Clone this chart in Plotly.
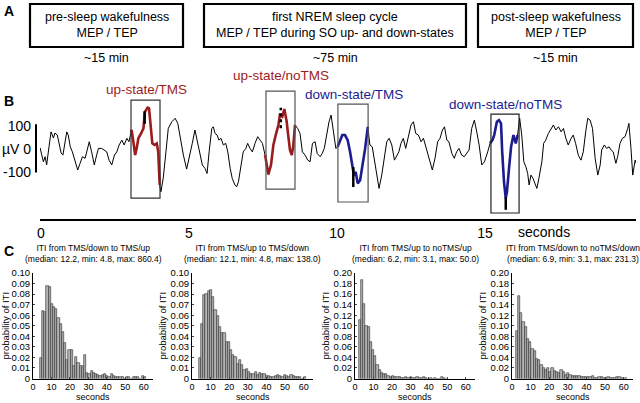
import plotly.graph_objects as go

# ---------------- Panel B: EEG trace (seconds, microvolts) ----------------
trace_t = [-0.03,0.02,0.08,0.14,0.19,0.27,0.34,0.42,0.47,0.55,0.61,0.68,0.74,0.81,0.87,0.92,0.99,1.06,1.13,1.24,
           1.32,1.40,1.49,1.58,1.63,1.71,1.80,1.88,1.94,2.05,2.14,2.22,2.30,2.39,2.48,2.56,2.64,2.73,2.81,2.90,
           2.97,3.04,3.06,3.12,3.18,3.23,3.29,3.38,3.46,3.51,3.60,3.65,3.72,3.76,3.83,3.91,3.96,4.01,4.05,4.13,
           4.22,4.30,4.42,4.53,4.62,4.70,4.81,4.92,5.03,5.11,5.20,5.29,5.37,5.45,5.54,5.61,5.68,5.77,5.82,5.88,
           5.95,6.01,6.08,6.16,6.24,6.31,6.39,6.46,6.55,6.61,6.67,6.76,6.83,6.92,6.98,7.06,7.14,7.23,7.32,7.40,
           7.48,7.57,7.63,7.68,7.77,7.85,7.93,8.02,8.07,8.15,8.22,8.30,8.35,8.41,8.47,8.52,8.58,8.67,8.75,8.83,
           8.92,9.01,9.09,9.17,9.26,9.33,9.43,9.50,9.57,9.65,9.73,9.80,9.88,9.96,10.02,10.10,10.18,10.27,10.36,10.44,
           10.52,10.57,10.63,10.70,10.78,10.85,10.95,11.04,11.11,11.19,11.28,11.38,11.42,11.51,11.60,11.68,11.76,11.85,11.94,12.02,
           12.09,12.16,12.24,12.32,12.41,12.50,12.58,12.66,12.75,12.84,12.92,13.00,13.08,13.18,13.22,13.31,13.40,13.48,13.56,13.63,
           13.71,13.78,13.88,13.96,14.04,14.12,14.21,14.30,14.38,14.46,14.55,14.64,14.72,14.80,14.89,14.98,15.09,15.17,15.25,15.31,
           15.40,15.47,15.54,15.58,15.64,15.70,15.74,15.81,15.88,15.96,16.04,16.10,16.17,16.24,16.31,16.38,16.44,16.49,16.55,16.62,
           16.69,16.75,16.82,16.92,16.98,17.05,17.14,17.23,17.31,17.39,17.48,17.57,17.65,17.73,17.81,17.91,17.98,18.06,18.15,18.24,
           18.32,18.40,18.47,18.55,18.63,18.72,18.81,18.89,18.94,19.03,19.11,19.19,19.26,19.33,19.42,19.48,19.56,19.64,19.73,19.82,
           19.86,19.93,19.99,20.07,20.16,20.21]
trace_uv = [7,-24,-53,-31,-67,12,77,50,72,63,28,-15,-24,34,77,63,12,-10,-46,-89,
            -60,-31,-38,5,34,-10,-67,-24,5,5,-2,-10,-46,-67,-24,-10,20,41,20,49,
            34,77,85,34,-24,5,49,70,92,164,182,179,92,27,20,27,-10,-154,-184,-124,
            -10,92,121,136,114,49,-24,-85,-11,27,85,34,-10,-67,-82,-104,-10,92,99,70,
            63,41,49,20,27,-10,-82,-125,-154,-162,-140,-67,-10,5,27,5,-10,27,56,41,
            27,-24,-82,-108,-67,20,63,107,150,143,176,121,63,-2,-24,12,107,92,70,-10,
            -24,-46,-53,27,34,-17,-31,-17,5,63,121,150,77,5,12,41,63,63,41,-10,
            -67,-111,-97,-147,-133,-82,5,99,20,12,-53,-133,-169,-111,-38,34,49,20,-46,-24,
            -10,27,49,5,56,107,121,70,63,34,49,12,-17,-67,-89,-38,34,49,85,99,
            41,34,-17,-38,-10,5,-24,-31,-17,-2,92,128,77,20,-67,-53,-10,27,41,63,
            121,128,114,-10,-140,-212,-184,-82,12,63,27,63,136,63,-53,-75,-104,-154,-111,-125,
            -154,-169,-125,-53,27,41,70,92,107,85,99,77,92,49,20,49,63,27,-24,-46,
            -10,77,136,128,92,-38,-111,-67,-2,20,5,12,-2,-10,-60,-31,27,49,56,92,
            114,5,-111,-46,-82,-97]

# Highlighted windows: label, start (s), end (s), box bottom/top (uV), colour
win_labels = ["up-state/TMS", "up-state/noTMS", "down-state/TMS", "down-state/noTMS"]
win_start = [3.04, 7.60, 10.03, 15.20]
win_end = [4.02, 8.58, 11.05, 16.15]
win_bottom = [-211, -172, -228, -276]
win_top = [215, 254, 198, 154]
win_colors = ["#9b1c1c", "#9b1c1c", "#1c1c8e", "#1c1c8e"]
win_box_colors = ["#333333", "#555555", "#555555", "#222222"]
label_t = [3.55, 8.11, 10.57, 15.68]
label_uv = [259, 324, 241, 194]

# TMS / trigger markers (time, top, bottom, dashed?)
mark_t = [3.50, 8.10, 10.55, 15.70]
mark_top = [166, 182, -76, -208]
mark_bot = [112, 93, -163, -262]
mark_dash = ["solid", "dot", "solid", "solid"]

# ---------------- Panel C: ITI histograms ----------------
bin_width = 1.2
h1_start = 4.2
h1 = [0.019,0.064,0.063,0.088,0.087,0.071,0.068,0.066,0.057,0.052,0.044,0.034,0.018,0.027,0.027,0.012,
      0.020,0.015,0.012,0.012,0.022,0.005,0.004,0.007,0.005,0.004,0.003,0.002,0.003,0.004,0.002,0.001,
      0.004,0.002,0.001,0.001,0.001,0.001,0.0,0.001,0.001,0.0,0.001,0.001,0.001,0.0,0.002,0.001]
h2_start = 4.2
h2 = [0.019,0.052,0.079,0.080,0.083,0.084,0.077,0.065,0.059,0.049,0.043,0.043,0.035,0.035,0.027,0.022,
      0.020,0.014,0.018,0.013,0.008,0.009,0.006,0.004,0.004,0.006,0.003,0.005,0.004,0.004,0.002,0.002,
      0.001,0.001,0.002,0.003,0.002,0.001,0.003,0.002,0.001,0.003,0.002,0.001,0.001,0.001,0.0,0.001]
h3_start = 2.6
h3 = [0.111,0.186,0.142,0.100,0.098,0.070,0.054,0.042,0.025,0.017,0.011,0.009,0.008,0.005,0.003,0.004,
      0.003,0.002,0.002,0.001,0.001,0.002,0.001,0.003,0.001,0.001,0.002,0.001,0.001,0.002,0.001,0.0,
      0.001,0.0,0.001,0.0,0.0,0.002,0.001,0.0]
h4_start = 2.6
h4 = [0.090,0.156,0.125,0.107,0.097,0.075,0.069,0.056,0.053,0.037,0.035,0.025,0.020,0.017,0.020,0.013,
      0.019,0.014,0.012,0.010,0.017,0.013,0.006,0.010,0.007,0.004,0.005,0.004,0.004,0.003,0.002,0.002,
      0.003,0.003,0.004,0.001,0.001,0.002,0.002,0.001,0.001,0.002,0.001,0.001,0.001,0.002,0.002,0.001,0.0,0.001]
hist_titles = ["ITI from TMS/down to TMS/up<br>(median: 12.2, min: 4.8, max: 860.4)",
               "ITI from TMS/up to TMS/down<br>(median: 12.1, min: 4.8, max: 138.0)",
               "ITI from TMS/up to noTMS/up<br>(median: 6.2, min: 3.1, max: 50.0)",
               "ITI from TMS/down to noTMS/down<br>(median: 6.9, min: 3.1, max: 231.3)"]
hist_ymax = [0.10, 0.10, 0.20, 0.20]
hist_ystep = [0.01, 0.01, 0.02, 0.02]

# ---------------- Panel A texts ----------------
a_box_lines = [["pre-sleep wakefulness", "MEP / TEP"],
               ["first NREM sleep cycle", "MEP / TEP during SO up- and down-states"],
               ["post-sleep wakefulness", "MEP / TEP"]]
a_durations = ["~15 min", "~75 min", "~15 min"]

# ---------------- figure ----------------
W, H = 640, 403
FONT = "Arial, Liberation Sans, Helvetica, sans-serif"
def px(x):
    return x / W
def py(y):
    return 1 - y / H

fig = go.Figure()
shapes = []
annotations = []

def ann(**kw):
    d = dict(showarrow=False, xanchor="center", yanchor="middle")
    d.update(kw)
    annotations.append(d)

# Panel B base trace
fig.add_trace(go.Scatter(x=trace_t, y=trace_uv, mode="lines", line=dict(color="black", width=1),
                         xaxis="x", yaxis="y", hoverinfo="skip", showlegend=False))
for i in range(4):
    seg_t = [t for t in trace_t if win_start[i] - 0.04 <= t <= win_end[i] + 0.02]
    seg_v = [v for t, v in zip(trace_t, trace_uv) if win_start[i] - 0.04 <= t <= win_end[i] + 0.02]
    fig.add_trace(go.Scatter(x=seg_t, y=seg_v, mode="lines", line=dict(color=win_colors[i], width=2.6),
                             xaxis="x", yaxis="y", showlegend=False))
    fig.add_trace(go.Scatter(x=[mark_t[i], mark_t[i]], y=[mark_bot[i], mark_top[i]], mode="lines",
                             line=dict(color="black", width=2.5, dash=mark_dash[i]),
                             xaxis="x", yaxis="y", showlegend=False))
    shapes.append(dict(type="rect", xref="x", yref="y", x0=win_start[i], x1=win_end[i],
                       y0=win_bottom[i], y1=win_top[i], line=dict(color=win_box_colors[i], width=1.2)))
    ann(x=label_t[i], y=label_uv[i], xref="x", yref="y", text=win_labels[i],
        font=dict(size=13.5, color=win_colors[i], family=FONT))

# scale bar
shapes.append(dict(type="line", xref="paper", yref="y", x0=px(36), x1=px(36), y0=-100, y1=110,
                   line=dict(color="black", width=2)))
ann(x=17.0, y=py(232), xref="x", yref="paper", text="seconds",
    font=dict(size=14, family=FONT, color="black"))

# Histograms
h_starts = [h1_start, h2_start, h3_start, h4_start]
h_vals = [h1, h2, h3, h4]
x_doms = [(33, 153), (192, 313), (355, 475), (512, 633)]
for k in range(4):
    centers = [h_starts[k] + bin_width * j for j in range(len(h_vals[k]))]
    fig.add_trace(go.Bar(x=centers, y=h_vals[k], width=bin_width,
                         marker=dict(color="#b4b4b4", line=dict(color="#2a2a2a", width=0.6)),
                         xaxis="x%d" % (k + 2), yaxis="y%d" % (k + 2), showlegend=False))
    n = int(round(hist_ymax[k] / hist_ystep[k]))
    tv = [hist_ystep[k] * j for j in range(n + 1)]
    tt = ["0"] + ["%.2f" % v for v in tv[1:]]
    fig.layout["xaxis%d" % (k + 2)] = dict(
        domain=[px(x_doms[k][0]), px(x_doms[k][1])], anchor="y%d" % (k + 2), range=[0, 65],
        tickvals=[0, 10, 20, 30, 40, 50, 60], showline=True, linecolor="black", linewidth=1,
        ticks="inside", ticklen=2, showgrid=False, zeroline=False, automargin=False,
        tickfont=dict(size=9, family=FONT, color="black"))
    fig.layout["yaxis%d" % (k + 2)] = dict(
        domain=[py(378.5), py(273)], anchor="x%d" % (k + 2), range=[0, hist_ymax[k]],
        tickvals=tv, ticktext=tt, showline=True, linecolor="black", linewidth=1,
        ticks="inside", ticklen=2, showgrid=False, zeroline=False, automargin=False,
        tickfont=dict(size=9.5, family=FONT, color="black"),
        title=dict(text="probability of ITI", font=dict(size=9.5, family=FONT, color="black"), standoff=2))
    ann(x=px((x_doms[k][0] + x_doms[k][1]) / 2), y=py(254), xref="paper", yref="paper",
        text=hist_titles[k], align="center", font=dict(size=8.5, family=FONT, color="black"))
    ann(x=px((x_doms[k][0] + x_doms[k][1]) / 2), y=py(397), xref="paper", yref="paper",
        text="seconds", font=dict(size=9, family=FONT, color="black"))

# Panel A
a_boxes = [(30, 183), (204, 466), (478, 633)]
for i in range(3):
    x0, x1 = a_boxes[i]
    shapes.append(dict(type="rect", xref="paper", yref="paper", x0=px(x0), x1=px(x1), y0=py(47), y1=py(4),
                       line=dict(color="black", width=2.2)))
    ann(x=px((x0 + x1) / 2), y=py(25.5), xref="paper", yref="paper",
        text="<br>".join(a_box_lines[i]), align="center", font=dict(size=12.5, family=FONT, color="black"))
    ann(x=px((x0 + x1) / 2), y=py(58), xref="paper", yref="paper",
        text=a_durations[i], font=dict(size=12.5, family=FONT, color="black"))

for lab, yy in [("A", 11), ("B", 101), ("C", 251)]:
    ann(x=px(9), y=py(yy), xref="paper", yref="paper", text="<b>%s</b>" % lab,
        font=dict(size=14, family=FONT, color="black"))

fig.update_layout(
    width=W, height=H, margin=dict(l=0, r=0, t=0, b=0, autoexpand=False),
    paper_bgcolor="white", plot_bgcolor="white", bargap=0,
    font=dict(family=FONT, color="black"),
    xaxis=dict(domain=[px(40), px(636)], anchor="y", range=[-0.034, 20.1], tickvals=[0, 5, 10, 15, 20],
               showline=True, linecolor="black", linewidth=2.2, ticks="", showgrid=False, zeroline=False,
               automargin=False, tickfont=dict(size=14, family=FONT, color="black")),
    yaxis=dict(domain=[py(219), py(70)], anchor="x", range=[-302, 346], tickvals=[100, 0, -100],
               ticktext=["100", "µV 0", "-100"], showline=False, showgrid=False, zeroline=False, ticks="",
               automargin=False, ticklabelstandoff=8, tickfont=dict(size=14, family=FONT, color="black")),
    shapes=shapes, annotations=annotations,
)

fig.write_html("out.html", config={"displayModeBar": False},
               post_script="document.body.style.margin='0';document.body.style.padding='0';")
